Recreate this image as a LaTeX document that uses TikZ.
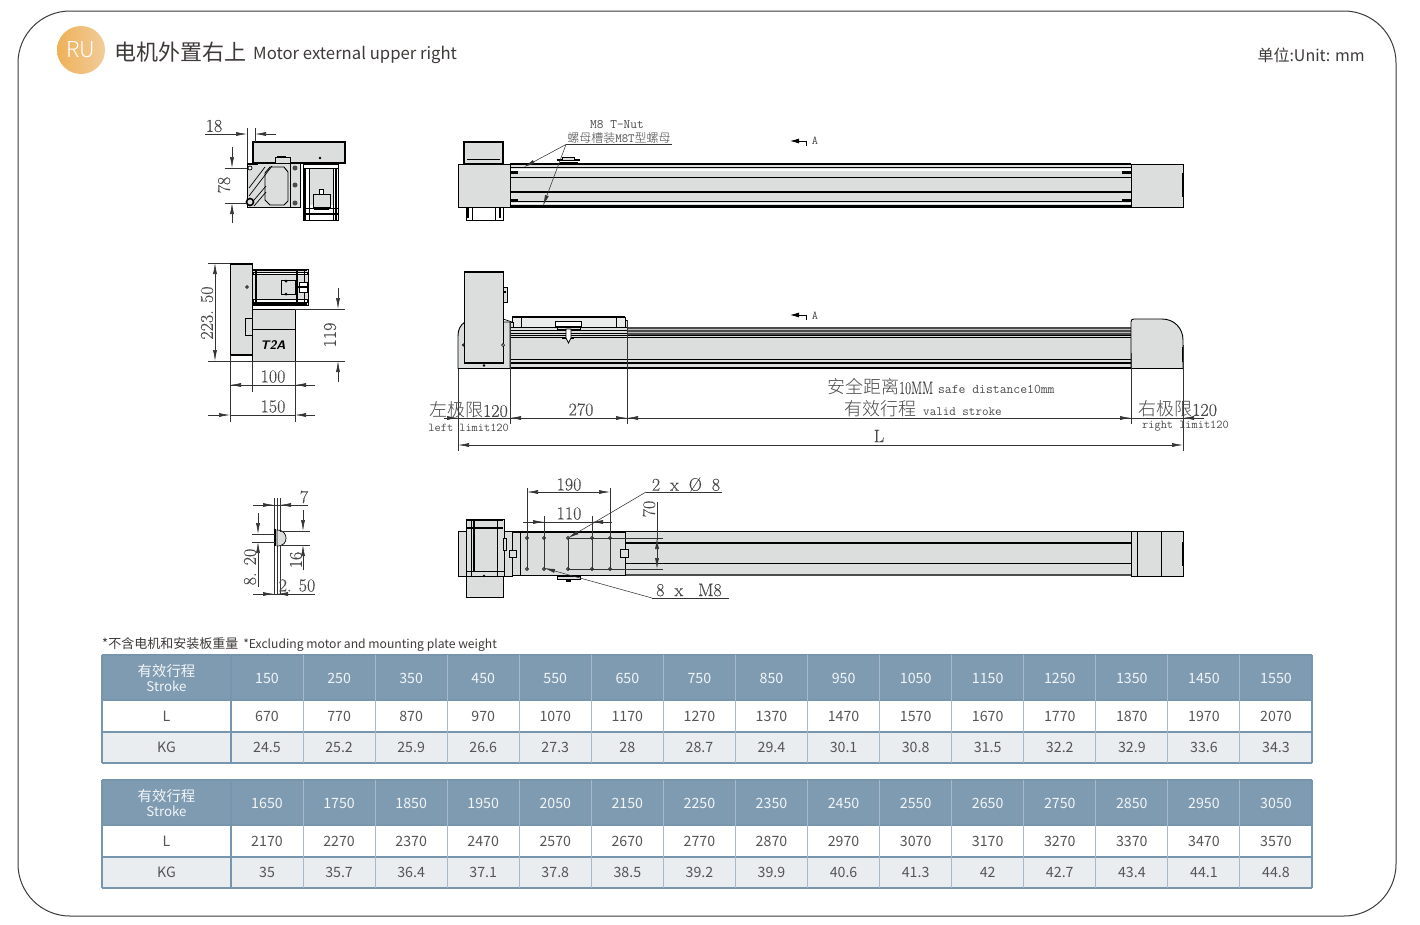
\documentclass[tikz,border=0pt]{standalone}
\usepackage{fontspec}
\usepackage{graphicx}
\setmainfont{Latin Modern Roman}[FakeBold=0.35]
\newfontfamily\cjk{Noto Sans CJK SC}
\newfontfamily\cjkl{Noto Sans CJK SC Light}
\newfontfamily\romn{Latin Modern Roman}[FakeBold=0.35]
\usetikzlibrary{arrows.meta,calc}
\definecolor{partgray}{HTML}{DCDDDD}
\definecolor{dimc}{HTML}{333333}
\definecolor{txtc}{HTML}{4A4A4A}
\definecolor{tabc}{HTML}{555555}
\definecolor{headc}{HTML}{7F9BB1}
\definecolor{gridc}{HTML}{7795AC}
\definecolor{kgc}{HTML}{E9EDF0}
\definecolor{inkc}{HTML}{3E3A39}
\definecolor{circa}{HTML}{EFB158}
\definecolor{circb}{HTML}{F1CC9B}
\newcommand{\fsz}[1]{\fontsize{#1}{#1}\selectfont}
\tikzset{
  x=1pt,y=-1pt,
  partbox/.style={fill=partgray,draw=black,line width=0.9pt},
  lin/.style={draw=black,line width=0.7pt},
  thick line/.style={draw=black,line width=1.6pt},
  dimline/.style={draw=dimc,line width=0.55pt},
  dimtip/.style={draw=dimc,line width=0.55pt,{Latex[length=11pt,width=4pt]}-{Latex[length=11pt,width=4pt]}},
  onetip/.style={draw=dimc,line width=0.55pt,-{Latex[length=11pt,width=4pt]}},
  dimtxt/.style={text=txtc,inner sep=0pt,font=\fsz{18}},
  cntxt/.style={text=txtc,inner sep=0pt,font=\cjkl\fsz{18}},
  smalltt/.style={text=txtc,inner sep=0pt,font=\ttfamily\fsz{12}},
  tabtxt/.style={text=tabc,inner sep=0pt,text height=10pt,text depth=0pt,font=\cjk\fsz{14.2}},
  headtxt/.style={text=white!90!headc,inner sep=0pt,align=center,font=\cjk\fsz{14.4}},
  hgrid/.style={draw=gridc,line width=1.1pt},
  vgrid/.style={draw=gridc!65!white,line width=0.9pt},
}
\newcommand{\tablerows}[3]{% top y, prefix, data
  \fill[headc] (102,#1) rectangle (1312,#1+45);
  \fill[white] (102,#1+45) rectangle (1312,#1+77);
  \fill[kgc] (102,#1+77) rectangle (1312,#1+108);
  \draw[hgrid] (102,#1) -- (1312,#1);
  \draw[hgrid] (102,#1+45) -- (1312,#1+45);
  \draw[hgrid] (102,#1+77) -- (1312,#1+77);
  \draw[hgrid] (102,#1+108) -- (1312,#1+108);
  \draw[hgrid] (102,#1) -- (102,#1+108);
  \draw[hgrid] (1312,#1) -- (1312,#1+108);
  \draw[hgrid] (231,#1) -- (231,#1+108);
  \node[headtxt] (#2h) at (166.5,#1+23) {有效行程\\[1pt]{\fsz{13.3}Stroke}};
  \node[tabtxt] (#2l) at (166.5,#1+61.5) {L};
  \node[tabtxt] (#2k) at (166.5,#1+92.5) {KG};
  \foreach \s/\l/\k [count=\n from 0] in {#3} {
    \pgfmathsetmacro{\xc}{267+72.07*\n}
    \pgfmathsetmacro{\xl}{303+72.07*\n}
    \ifnum\n<14 \draw[vgrid] (\xl,#1) -- (\xl,#1+108); \fi
    \node[tabtxt,text=white!90!headc] (#2s\n) at (\xc,#1+23) {\s};
    \node[tabtxt] (#2v\n) at (\xc,#1+61.5) {\l};
    \node[tabtxt] (#2w\n) at (\xc,#1+92.5) {\k};
  }
}
\begin{document}
\begin{tikzpicture}
\useasboundingbox (0,0) rectangle (1420,924);
\fill[white] (0,0) rectangle (1420,924);
% frame
\draw[draw=inkc,line width=1pt,rounded corners=52pt] (18,11) rectangle (1396,916);
% title
\shade[left color=circa,right color=circb] (81,50) circle (24);
\node[text=white,inner sep=0pt,font=\cjkl\fsz{22}] (ru) at (81,50) {RU};
\node[anchor=west,text=inkc,inner sep=0pt,font=\cjk\fsz{22}] (title) at (114,52) {电机外置右上};
\node[anchor=west,text=inkc,inner sep=0pt,font=\cjk\fsz{16.7}] (titleen) at (253,54.5) {Motor external upper right};
\node[anchor=east,text=inkc,inner sep=0pt,font=\cjk\fsz{16}] (unit) at (1365,55) {单位:Unit: mm};

% ======= VIEW A (upper left)
\draw[partbox,line width=1.2pt] (253,142) rectangle (345,163);
\fill[black] (320,158) circle (1.4);
\draw[partbox] (247,163) rectangle (290,207);
\draw[partbox] (265,173) -- (270,167) -- (284,167) -- (288,172) -- (288,201) -- (284,205) -- (270,205) -- (265,200) -- cycle;
\draw[lin] (249,188) -- (265,167);
\draw[lin] (249,196) -- (272,166);
\draw[lin] (249,206) -- (266,186);
\draw[lin] (254,206) -- (266,192);
\draw[thick line] (247,164) -- (258,164);
\draw[thick line,fill=partgray] (250,202) circle (3.5);
\draw[lin,fill=white] (250,168) circle (2);
\draw[lin,fill=partgray] (275,157) rectangle (290,163);
\draw[thick line] (277,157) -- (286,157);
\draw[lin,fill=partgray] (290,163) rectangle (300,207);
\fill[black!70] (295,168) circle (2.5);
\fill[black!70] (295,185) circle (2.5);
\fill[black!70] (295,203) circle (2.5);
\draw[partbox,fill=white] (303,163) rectangle (338,220);
\fill[partgray] (309,168) rectangle (333,205);
\draw[thick line] (303,164) -- (338,164);
\draw[thick line] (305,168) -- (305,220);
\draw[thick line] (336,168) -- (336,220);
\draw[lin] (309,168) -- (309,220);
\draw[lin] (333,168) -- (333,220);
\draw[lin] (303,168) -- (338,168);
\draw[lin] (303,208) -- (338,208);
\draw[thick line] (303,214) -- (338,214);
\draw[lin,fill=partgray] (313,194) rectangle (330,207);
\draw[lin,fill=white] (319,189) rectangle (323,194);
\draw[thick line] (314,209) -- (329,209);
% dims A
\draw[dimline] (247,128) -- (247,163);
\draw[dimline] (255,128) -- (255,142);
\draw[dimline] (205,134) -- (225,134);
\draw[onetip] (225,134) -- (247,134);
\draw[onetip] (276,134) -- (255,134);
\node[dimtxt] (d18) at (214,126) {18};
\draw[dimline] (225,168) -- (247,168);
\draw[dimline] (225,203) -- (247,203);
\draw[onetip] (232,147) -- (232,168);
\draw[onetip] (232,223) -- (232,203);
\node[dimtxt,rotate=90] (d78) at (224,185) {78};

% ======= VIEW B (middle left)
\draw[partbox] (230,263) rectangle (252,355);
\draw[draw=black,line width=1.8pt] (230,264) -- (252,264);
\draw[draw=black,line width=1.8pt] (230,355) -- (252,355);
\draw[lin,fill=white] (247,287) circle (1.3);
\draw[lin,fill=partgray] (245,318) rectangle (252,335);
\draw[partbox] (252,269) rectangle (308,305);
\draw[thick line] (252,270) -- (307,270);
\draw[thick line] (252,304) -- (307,304);
\draw[lin,fill=white] (253,272) rectangle (307,274);
\draw[lin,fill=white] (253,299) rectangle (307,302);
\draw[thick line] (256,269) -- (256,305);
\draw[thick line] (297,269) -- (297,305);
\draw[lin] (304,269) -- (304,305);
\draw[lin,fill=partgray] (281,280) rectangle (295,294);
\draw[lin,fill=white] (299,282) rectangle (307,292);
\draw[thick line] (296,287) -- (307,287);
\fill[black] (286,281) circle (1.5);
\fill[black] (286,294) circle (1.5);
\draw[partbox] (252,309) rectangle (295,361);
\draw[lin] (252,329) -- (295,329);
\node[text=black,inner sep=0pt,font=\sffamily\bfseries\itshape\fsz{12.5}] (tpa) at (273,345) {T2A};
% dims B
\draw[dimline] (208,263) -- (230,263);
\draw[dimline] (208,361) -- (345,361);
\draw[dimtip] (215,263) -- (215,361);
\node[dimtxt,rotate=90] (d223) at (207,313) {223. 50};
\draw[dimline] (295,309) -- (345,309);
\draw[onetip] (338,288) -- (338,309);
\draw[onetip] (338,382) -- (338,361);
\node[dimtxt,rotate=90] (d119) at (330,335) {119};
\draw[dimline] (230,355) -- (230,422);
\draw[dimline] (252,361) -- (252,392);
\draw[dimline] (295,361) -- (295,422);
\draw[onetip] (252,385) -- (230,385);
\draw[dimline] (230,385) -- (315,385);
\draw[onetip] (315,385) -- (295,385);
\node[dimtxt] (d100) at (273,376.5) {100};
\draw[onetip] (208,415) -- (230,415);
\draw[dimline] (230,415) -- (295,415);
\draw[onetip] (315,415) -- (295,415);
\node[dimtxt] (d150) at (273,406.5) {150};

% ======= VIEW C (lower left)
\draw[dimline,line width=0.8pt] (274,498) -- (274,595);
\draw[dimline,line width=0.8pt] (277,498) -- (277,595);
\draw[dimline] (280,498) -- (280,595);
\draw[lin,fill=partgray] (277,530) .. controls (284,530) and (286,535) .. (286,538) .. controls (286,542) and (284,546) .. (277,546) -- cycle;
\draw[thick line] (275,529) -- (275,546);
\draw[dimline] (253,505) -- (308,505);
\draw[onetip] (253,505) -- (274,505);
\draw[onetip] (302,505) -- (280,505);
\node[dimtxt] (d7) at (304,497) {7};
\draw[dimline] (280,531) -- (310,531);
\draw[dimline] (280,545) -- (310,545);
\draw[onetip] (303,510) -- (303,531);
\draw[onetip] (303,570) -- (303,545);
\node[dimtxt,rotate=90] (d16) at (296,560) {16};
\draw[dimline] (252,534) -- (275,534);
\draw[dimline] (252,542) -- (275,542);
\draw[onetip] (258,513) -- (258,534);
\draw[onetip] (258,587) -- (258,542);
\node[dimtxt,rotate=90] (d820) at (250,567) {8. 20};
\draw[dimline] (253,594) -- (315,594);
\draw[onetip] (253,594) -- (274,594);
\draw[onetip] (297,594) -- (277,594);
\node[dimtxt] (d250) at (297,585.5) {2. 50};

% ======= TOP VIEW
\draw[partbox,line width=1.2pt] (464,142) rectangle (503,164);
\draw[lin] (467,159) -- (500,159);
\draw[lin,fill=white] (466,207) rectangle (503,220);
\draw[lin] (472,207) -- (472,220);
\draw[lin] (495,207) -- (495,220);
\draw[thick line] (468,208) -- (468,218);
\draw[thick line] (500,208) -- (500,218);
\fill[partgray] (510,164) rectangle (1131,207);
\foreach \yy/\w in {164/1.6,167.5/1.0,177.5/1.3,192/1.3,201.5/1.0,205/0.8,207/1.3}
  \draw[draw=black,line width=\w pt] (510,\yy) -- (1131,\yy);
\fill[white] (510,168.5) rectangle (1131,171);
\fill[white] (510,202.5) rectangle (1131,204);
\foreach \yy in {171,199} \fill[black] (510,\yy) rectangle (518,\yy+2.5);
\foreach \yy in {171,199} \fill[black] (1122,\yy) rectangle (1131,\yy+2.5);
\draw[partbox] (458,164) rectangle (510,207);
\draw[partbox] (1131,164) rectangle (1183,207);
\fill[black] (1182,173) rectangle (1184,197);
\draw[thick line] (557,160) -- (580,160);
\draw[lin,fill=partgray] (562,157) rectangle (574,160);
\draw[thick line] (560,162.5) -- (578,162.5);
\coordinate (tnA) at (566,144.5);
\coordinate (tnB) at (672,144.5);
\draw[dimline,line width=0.9pt] (tnA) -- (tnB);
\coordinate (tipA) at (524,167);
\coordinate (tipB) at (543,206);
\draw[onetip] (tnA) -- (tipA);
\draw[onetip] (tnA) -- (tipB);
\node[smalltt,font=\ttfamily\fsz{13}] (tnut) at (617,125) {M8 T-Nut};
\node[text=txtc,inner sep=0pt,font=\fsz{12.5}] (tnutcn) at (619,138) {{\cjkl\fsz{12}螺母槽装}{\ttfamily M8T}{\cjkl\fsz{12}型螺母}};
% section mark
\draw[draw=black,line width=0.8pt,-{Latex[length=9pt,width=5pt]}] (806,146) -- (806,141) -- (790,141);
\node[smalltt,font=\ttfamily\fsz{12}] (a1) at (815,141) {A};

% ======= MIDDLE (SIDE) VIEW
\draw[partbox] (458,368.5) -- (458,336) .. controls (458,330) and (460,325) .. (465,322) -- (510,322) -- (510,368.5) -- cycle;
\draw[partbox] (464,271) rectangle (503,363);
\draw[draw=black,line width=2pt] (464,271.5) -- (503,271.5);
\draw[draw=black,line width=2pt] (464,362.5) -- (503,362.5);
\fill[black] (484,365.5) circle (1.4);
\draw[lin,fill=white] (463.5,345) circle (1.2);
\draw[lin,fill=white] (503,345) circle (1.5);
\draw[lin,fill=partgray] (503,287) rectangle (507,302);
\draw[thick line] (503,292) -- (506,292);
\draw[lin] (503,319) -- (512,322);
\fill[partgray] (510,327) rectangle (1131,368);
\draw[draw=black,line width=1.6pt] (510,327.5) -- (1131,327.5);
\foreach \yy/\w in {330/1,333/1,335/1,337/1,359/1,363/1.2,368/1.2}
  \draw[draw=black,line width=\w pt] (510,\yy) -- (1131,\yy);
\fill[black!70] (627,327) rectangle (1131,335);
\foreach \yy in {329.5,332} \draw[draw=white!75!black,line width=0.4pt] (627,\yy) -- (1131,\yy);
% carriage
\draw[partbox,fill=partgray!60!white] (512,317) rectangle (625,327);
\draw[lin] (521,317) -- (521,327);
\draw[lin] (616,317) -- (616,327);
\draw[thick line] (512,317) -- (625,317);
\draw[lin,fill=white] (555,321.5) rectangle (581,326);
\draw[lin,fill=partgray] (557,327) rectangle (580,329.5);
\fill[black] (562,337) rectangle (574,339);
\draw[draw=black,line width=0.8pt,fill=white] (566,329) -- (571,329) -- (571,338) -- (568.5,343) -- (566,338) -- cycle;
\draw[lin,fill=partgray] (510,322) rectangle (513,327);
\draw[lin,fill=partgray] (625,320) rectangle (627,327);
% right end
\draw[partbox] (1131,322) .. controls (1131,320) and (1132,319) .. (1134,319) -- (1162,319) .. controls (1174,319) and (1183,328) .. (1183,340) -- (1183,368.5) -- (1131,368.5) -- cycle;
\fill[black] (1182,347) rectangle (1184,362);
% section mark
\draw[draw=black,line width=0.8pt,-{Latex[length=9pt,width=5pt]}] (806,320) -- (806,315) -- (790,315);
\node[smalltt,font=\ttfamily\fsz{12}] (a2) at (815,316) {A};
% dims
\draw[dimline] (458,369) -- (458,451);
\draw[dimline] (510,322) -- (510,424);
\draw[dimline] (627,320) -- (627,424);
\draw[dimline] (1131,353) -- (1131,424);
\draw[dimline] (1183,345) -- (1183,451);
\draw[dimline] (444,418) -- (1204,418);
\draw[onetip] (444,418) -- (458,418);
\draw[onetip] (522,418) -- (510,418);
\draw[onetip] (615,418) -- (627,418);
\draw[onetip] (639,418) -- (627,418);
\draw[onetip] (1119,418) -- (1131,418);
\draw[onetip] (1195,418) -- (1183,418);
\draw[dimtip] (458,445) -- (1183,445);
\node[cntxt,anchor=east] (ll) at (508,410) {左极限{\romn 120}};
\node[smalltt,anchor=east] (lle) at (509,427.5) {left limit120};
\node[dimtxt] (d270) at (581,409.5) {270};
\node[cntxt,anchor=west] (sd) at (827,387) {安全距离{\romn\scalebox{0.72}[1]{10MM}}\hspace{5pt}{\ttfamily\fsz{13.3}safe distance10mm}};
\node[cntxt,anchor=west] (vs) at (844,409) {有效行程\hspace{7pt}{\ttfamily\fsz{12.7}valid stroke}};
\node[dimtxt] (dL) at (879,436) {L};
\node[cntxt,anchor=west] (rl) at (1138,409) {右极限{\romn 120}};
\node[smalltt,anchor=west] (rle) at (1142,426) {right limit120};

% ======= BOTTOM VIEW
\draw[partbox] (458,531) rectangle (466,576);
\draw[partbox] (503,531) rectangle (512,576);
\fill[partgray] (625,532) rectangle (1131,575);
\draw[draw=black,line width=1.6pt] (510,531.5) -- (1131,531.5);
\foreach \yy/\w in {543/1.2,563/0.9}
  \draw[draw=black,line width=\w pt] (625,\yy) -- (1131,\yy);
\draw[draw=black!70,line width=1.8pt] (625,575) -- (1131,575);
% motor
\draw[partbox,draw=black] (466,519) rectangle (504,576);
\draw[thick line] (466,520) -- (503,520);
\draw[thick line] (467,528) -- (503,528);
\draw[lin] (471,519) -- (471,576);
\draw[thick line] (474,519) -- (474,571);
\draw[lin] (497,519) -- (497,576);
\draw[lin] (466,571) -- (504,571);
\draw[lin,fill=partgray] (503,538) rectangle (506,550);
\draw[partbox] (466,576) rectangle (503,597);
\fill[black] (484,576) circle (1.3);
% carriage
\draw[partbox] (512,532) rectangle (625,575.5);
\draw[lin] (520,532) -- (520,575.5);
\draw[lin,fill=partgray] (509,550) rectangle (516,557);
\draw[lin,fill=partgray] (620,549) rectangle (628,557);
% holes
\foreach \hx in {527,544,568,592,610} {
  \foreach \hy in {538,569} {
    \draw[draw=black!80,line width=0.6pt,fill=black!55] (\hx,\hy) circle (1.6);
  }
  \draw[dimline] (\hx,538) -- (\hx,569);
}
\draw[partbox] (1131,531) rectangle (1183,576);
\draw[lin] (1137,531) -- (1137,576);
\draw[lin] (1161,531) -- (1161,576);
\fill[black] (1182,542) rectangle (1184,566);
% T nut
\draw[lin,fill=partgray] (557,576) rectangle (580,579.5);
\fill[black] (566,579) rectangle (571,582);
% dims
\draw[dimline] (527,488) -- (527,538);
\draw[dimline] (610,488) -- (610,538);
\draw[dimtip] (527,492) -- (610,492);
\node[dimtxt] (d190) at (569,484.5) {190};
\draw[dimline] (544,516) -- (544,538);
\draw[dimline] (592,516) -- (592,538);
\draw[dimline] (523,522) -- (612,522);
\draw[onetip] (523,522) -- (544,522);
\draw[onetip] (612,522) -- (592,522);
\node[dimtxt] (d110) at (569,513.5) {110};
\coordinate (holeA) at (568,538);
\coordinate (kneeA) at (646,492);
\coordinate (endA) at (722,492);
\draw[dimline] (endA) -- (kneeA);
\draw[onetip] (kneeA) -- (holeA);
\node[dimtxt] (d2x8) at (686,484.5) {2\hspace{10pt}x\hspace{10pt}Ø\hspace{10pt}8};
\coordinate (holeB) at (544,568);
\coordinate (kneeB) at (652,598);
\coordinate (endB) at (729,598);
\draw[dimline] (endB) -- (kneeB);
\draw[onetip] (kneeB) -- (holeB);
\node[dimtxt] (d8xm8) at (689,590) {8\hspace{10pt}x\hspace{15pt}M8};
\draw[dimline] (568,538) -- (663,538);
\draw[dimline] (568,569) -- (663,569);
\draw[dimline] (657,502) -- (657,540);
\draw[dimtip] (657,538) -- (657,569);
\node[dimtxt,rotate=90] (d70) at (649,509) {70};

% ======= TABLE
\node[anchor=west,text=inkc,inner sep=0pt,font=\cjk\fsz{12.15}] (note) at (102,644.5) {{\fsz{13}*不含电机和安装板重量}\hspace{5pt}*Excluding motor and mounting plate weight};
\tablerows{655}{a}{150/670/24.5,250/770/25.2,350/870/25.9,450/970/26.6,550/1070/27.3,650/1170/28,750/1270/28.7,850/1370/29.4,950/1470/30.1,1050/1570/30.8,1150/1670/31.5,1250/1770/32.2,1350/1870/32.9,1450/1970/33.6,1550/2070/34.3}
\tablerows{780}{b}{1650/2170/35,1750/2270/35.7,1850/2370/36.4,1950/2470/37.1,2050/2570/37.8,2150/2670/38.5,2250/2770/39.2,2350/2870/39.9,2450/2970/40.6,2550/3070/41.3,2650/3170/42,2750/3270/42.7,2850/3370/43.4,2950/3470/44.1,3050/3570/44.8}
\end{tikzpicture}
\end{document}
